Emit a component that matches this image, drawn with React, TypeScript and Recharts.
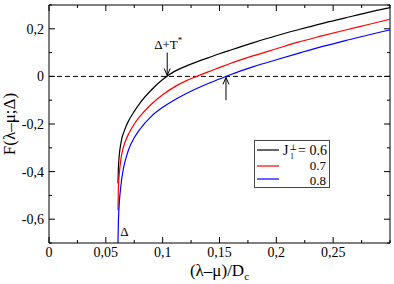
import React from "react";
import { LineChart, Line, XAxis, YAxis, ReferenceLine, ReferenceDot } from "recharts";

// x = (λ-μ)/Dc
const xValues = [
  0.0607, 0.061, 0.0615, 0.062, 0.063, 0.064, 0.066, 0.068, 0.07, 0.075, 0.08, 0.09, 0.1,
  0.11, 0.12, 0.13, 0.14, 0.15, 0.16, 0.18, 0.2, 0.22, 0.24, 0.26, 0.28, 0.3,
];
const fJ06 = [
  -0.45, -0.39, -0.35, -0.322, -0.288, -0.262, -0.232, -0.207, -0.187, -0.147, -0.112, -0.057, -0.013,
  0.02, 0.042, 0.061, 0.078, 0.095, 0.111, 0.142, 0.171, 0.197, 0.222, 0.245, 0.268, 0.289,
];
const fJ07 = [
  -0.5625, -0.48, -0.43, -0.4, -0.357, -0.327, -0.289, -0.263, -0.242, -0.2, -0.168, -0.117, -0.077,
  -0.045, -0.02, 0.0, 0.019, 0.037, 0.055, 0.087, 0.116, 0.145, 0.17, 0.194, 0.217, 0.24,
];
const fJ08 = [
  -0.7, -0.62, -0.56, -0.52, -0.47, -0.43, -0.375, -0.338, -0.308, -0.258, -0.222, -0.168, -0.13,
  -0.1, -0.074, -0.051, -0.03, -0.011, 0.008, 0.041, 0.07, 0.098, 0.125, 0.149, 0.173, 0.195,
];

const xTicks = [0, 0.025, 0.05, 0.075, 0.1, 0.125, 0.15, 0.175, 0.2, 0.225, 0.25, 0.275, 0.3];
const xLabeled = [0, 0.05, 0.1, 0.15, 0.2, 0.25];
const yTicks = [-0.7, -0.6, -0.5, -0.4, -0.3, -0.2, -0.1, 0, 0.1, 0.2, 0.3];
const yLabeled = [-0.6, -0.4, -0.2, 0, 0.2];

const legendValues = ["0.6", "0.7", "0.8"];
const COLORS = ["#000000", "#ff0000", "#0000ff"];

const data = xValues.map((x, i) => ({ x, a: fJ06[i], b: fJ07[i], c: fJ08[i] }));

const FONT = "'Liberation Serif', 'DejaVu Serif', serif";
const W = 394;
const H = 284;
const TOP = 5;
const BOTTOM = 243;
const LEFT = 49;
const RIGHT = 390;

const near = (list: number[], v: number) => list.some((t) => Math.abs(t - v) < 1e-9);
const fmt = (v: number) => (v === 0 ? "0" : String(v).replace(".", ","));

const XTick = (props: any) => {
  const { x, payload } = props;
  const v = payload.value;
  const major = near(xLabeled, v);
  const len = major ? 6 : 3;
  return (
    <g>
      <line x1={x} x2={x} y1={BOTTOM} y2={BOTTOM - len} stroke="#000" />
      <line x1={x} x2={x} y1={TOP} y2={TOP + len} stroke="#000" />
      {major && (
        <text x={x} y={BOTTOM + 14} textAnchor="middle" fontSize={14} fontFamily={FONT} fill="#000">
          {fmt(v)}
        </text>
      )}
    </g>
  );
};

const YTick = (props: any) => {
  const { y, payload } = props;
  const v = payload.value;
  const major = near(yLabeled, v);
  const len = major ? 6 : 3;
  return (
    <g>
      <line x1={LEFT} x2={LEFT + len} y1={y} y2={y} stroke="#000" />
      <line x1={RIGHT} x2={RIGHT - len} y1={y} y2={y} stroke="#000" />
      {major && (
        <text x={LEFT - 5} y={y + 5} textAnchor="end" fontSize={14} fontFamily={FONT} fill="#000">
          {fmt(v)}
        </text>
      )}
    </g>
  );
};

const Arrow = (props: any) => {
  const { x1, y1, x2, y2 } = props;
  const dir = y2 > y1 ? 1 : -1;
  return (
    <g>
      <line x1={x1} y1={y1} x2={x2} y2={y2} stroke="#000" strokeWidth={1} />
      <polyline
        points={`${x2 - 3},${y2 - dir * 7} ${x2},${y2} ${x2 + 3},${y2 - dir * 7}`}
        fill="none"
        stroke="#000"
        strokeWidth={1}
      />
    </g>
  );
};

const LegendBox = () => {
  const rows = [10, 26, 39];
  return (
    <svg style={{ position: "absolute", left: 254, top: 140 }} width={76} height={48}>
      <rect x={0.5} y={0.5} width={75} height={47} fill="#fff" stroke="#444" />
      {legendValues.map((v, i) => (
        <line key={v} x1={3} x2={25} y1={rows[i]} y2={rows[i]} stroke={COLORS[i]} strokeWidth={1.2} />
      ))}
      <text fontFamily={FONT} fontSize={14} fill="#000">
        <tspan x={29} y={15}>J</tspan>
        <tspan x={35.5} y={10} fontSize={8}>⊥</tspan>
        <tspan x={37} y={19} fontSize={8}>l</tspan>
        <tspan x={44} y={15}>= {legendValues[0]}</tspan>
      </text>
      <text x={72} y={30} fontFamily={FONT} fontSize={13} fill="#000" textAnchor="end">
        {legendValues[1]}
      </text>
      <text x={72} y={45} fontFamily={FONT} fontSize={13} fill="#000" textAnchor="end">
        {legendValues[2]}
      </text>
    </svg>
  );
};

const App: React.FC = () => {
  return (
    <div style={{ position: "absolute", left: 0, top: 0, width: W, height: H, background: "#fff" }}>
      <LineChart width={W} height={H} data={data} margin={{ top: TOP, right: W - RIGHT, bottom: 0, left: 0 }}>
        <XAxis
          dataKey="x"
          type="number"
          domain={[0, 0.3]}
          ticks={xTicks}
          interval={0}
          height={H - BOTTOM}
          tickLine={false}
          tick={<XTick />}
          axisLine={{ stroke: "#000" }}
          label={{
            content: () => (
              <text x={(LEFT + RIGHT) / 2} y={276} textAnchor="middle" fontSize={17} fontFamily={FONT} fill="#000">
                (λ–μ)/D
                <tspan fontSize={11} dy={4}>c</tspan>
              </text>
            ),
          }}
        />
        <YAxis
          type="number"
          domain={[-0.7, 0.3]}
          ticks={yTicks}
          interval={0}
          width={LEFT}
          tickLine={false}
          tick={<YTick />}
          axisLine={{ stroke: "#000" }}
          label={{
            content: () => (
              <text
                x={15}
                y={124}
                transform="rotate(-90 15 124)"
                textAnchor="middle"
                fontSize={17}
                fontFamily={FONT}
                fill="#000"
              >
                F(λ–μ;Δ)
              </text>
            ),
          }}
        />
        <ReferenceLine y={0.3} stroke="#000" />
        <ReferenceLine x={0.3} stroke="#000" />
        <ReferenceLine y={0} stroke="#000" strokeDasharray="5 3" />
        <Line type="monotone" dataKey="a" stroke={COLORS[0]} strokeWidth={1.2} dot={false} isAnimationActive={false} />
        <Line type="monotone" dataKey="b" stroke={COLORS[1]} strokeWidth={1.2} dot={false} isAnimationActive={false} />
        <Line type="monotone" dataKey="c" stroke={COLORS[2]} strokeWidth={1.2} dot={false} isAnimationActive={false} />
        <ReferenceLine segment={[{ x: 0.104, y: 0.1 }, { x: 0.104, y: 0.004 }]} shape={<Arrow />} />
        <ReferenceLine segment={[{ x: 0.1557, y: -0.1 }, { x: 0.1557, y: -0.004 }]} shape={<Arrow />} />
        <ReferenceDot
          x={0.104}
          y={0.1}
          r={1}
          fill="none"
          stroke="none"
          label={{
            content: (p: any) => (
              <text x={(p.viewBox.cx ?? p.viewBox.x) + 2} y={(p.viewBox.cy ?? p.viewBox.y) - 3} textAnchor="middle" fontSize={13} fontFamily={FONT} fill="#000">
                Δ+T
                <tspan fontSize={9} dy={-6}>*</tspan>
              </text>
            ),
          }}
        />
        <ReferenceDot
          x={0.0635}
          y={-0.675}
          r={1}
          fill="none"
          stroke="none"
          label={{
            content: (p: any) => (
              <text x={p.viewBox.cx ?? p.viewBox.x} y={p.viewBox.cy ?? p.viewBox.y} fontSize={13} fontFamily={FONT} fill="#000">
                Δ
              </text>
            ),
          }}
        />
      </LineChart>
      <LegendBox />
    </div>
  );
};

export default App;
